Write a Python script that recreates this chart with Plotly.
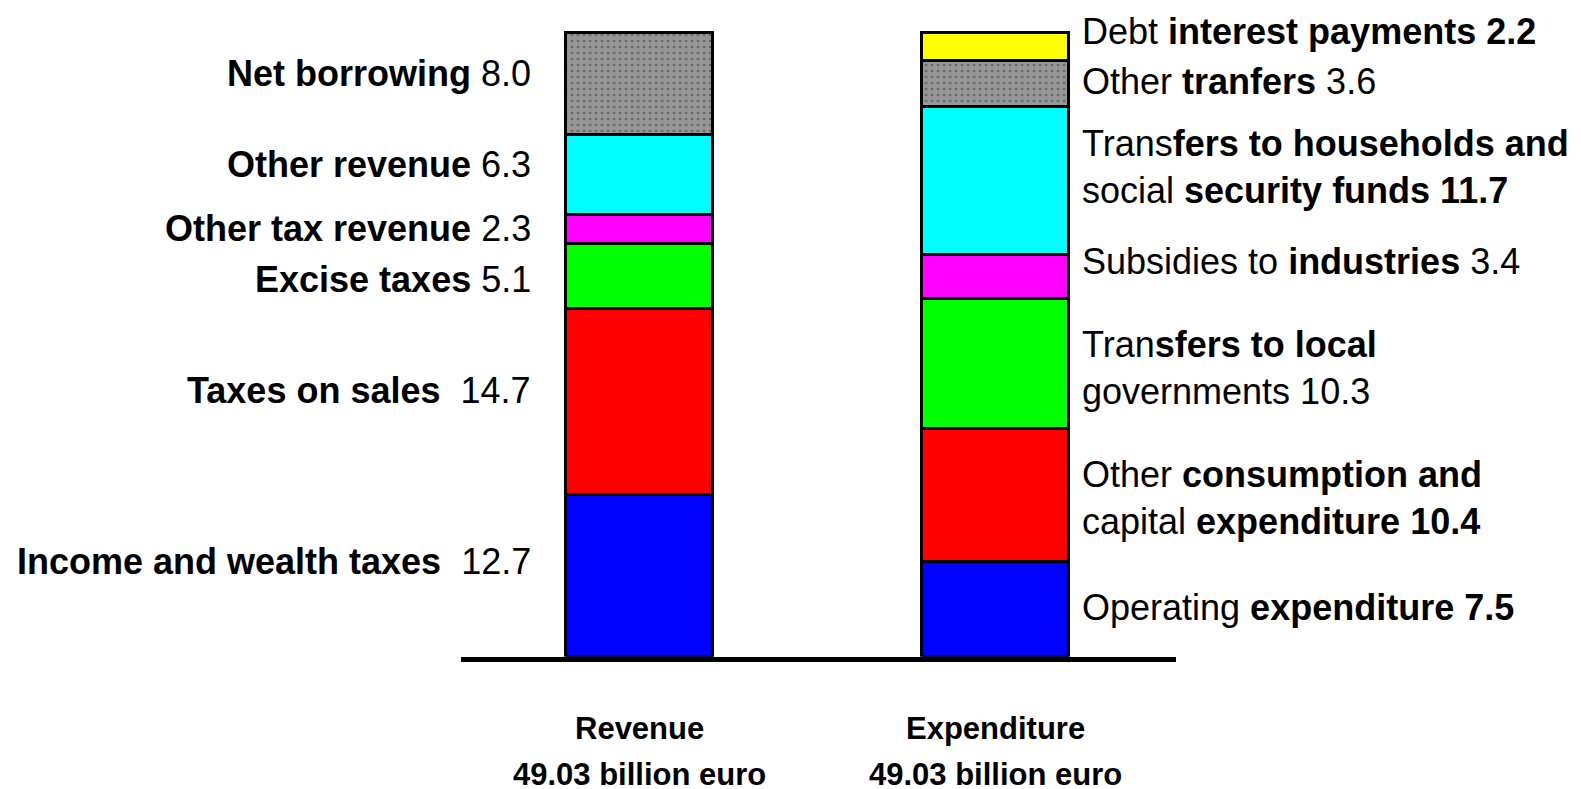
import plotly.graph_objects as go

# ---------------- data ----------------
revenue_items = ["Income and wealth taxes", "Taxes on sales", "Excise taxes",
                 "Other tax revenue", "Other revenue", "Net borrowing"]
revenue_values = [12.7, 14.7, 5.1, 2.3, 6.3, 8.0]

expenditure_items = ["Operating expenditure", "Other consumption and capital expenditure",
                     "Transfers to local governments", "Subsidies to industries",
                     "Transfers to households and social security funds",
                     "Other tranfers", "Debt interest payments"]
expenditure_values = [7.5, 10.4, 10.3, 3.4, 11.7, 3.6, 2.2]

category_names = ["Revenue", "Expenditure"]
category_totals = ["49.03 billion euro", "49.03 billion euro"]

# ---------------- styles ----------------
rev_colors = ["#0000ff", "#ff0000", "#00ff00", "#ff00ff", "#00ffff", "#969696"]
exp_colors = ["#0000ff", "#ff0000", "#00ff00", "#ff00ff", "#00ffff", "#969696", "#ffff00"]
NB = "\u00a0"

rev_label_fmt = [
    "<b>Income and wealth taxes</b>" + NB * 2 + "{v}",
    "<b>Taxes on sales</b>" + NB * 2 + "{v}",
    "<b>Excise taxes</b>" + NB + "{v}",
    "<b>Other tax revenue</b>" + NB + "{v}",
    "<b>Other revenue</b>" + NB + "{v}",
    "<b>Net borrowing</b> {v}",
]
rev_yshift = [15, 12, -3, 1, 10, 10]

exp_label_fmt = [
    "Operating <b>expenditure {v}</b>",
    "Other <b>consumption and</b><br>capital <b>expenditure {v}</b>",
    "Tran<b>sfers to local</b><br>governments {v}",
    "Subsidies to <b>industries</b>" + NB + "{v}",
    "Trans<b>fers to households and</b><br>social <b>security funds {v}</b>",
    "Other <b>tranfers</b>" + NB + "{v}",
    "Debt <b>interest payments {v}</b>",
]
exp_yshift = [2, -3, -4, 15, 14, 2, 16]

FONT = "Liberation Sans, Arial, sans-serif"
LABEL_SIZE = 36
BAR_W = 0.414
W, H = 1581, 789

fig = go.Figure()


def add_stack(xpos, values, colors):
    for v, c in zip(values, colors):
        marker = dict(color=c, line=dict(color="black", width=3))
        if c == "#969696":
            marker["pattern"] = dict(shape=".", fgcolor="#666666", bgcolor="#969696",
                                     size=6, solidity=0.15, fillmode="replace")
        fig.add_trace(go.Bar(x=[xpos], y=[v], width=BAR_W, marker=marker,
                             showlegend=False, hoverinfo="skip"))


add_stack(0, revenue_values, rev_colors)
add_stack(1, expenditure_values, exp_colors)

annotations = []
cum = 0.0
for v, fmt, ys in zip(revenue_values, rev_label_fmt, rev_yshift):
    mid = cum + v / 2
    cum += v
    annotations.append(dict(x=0, y=mid, xref="x", yref="y", text=fmt.format(v=f"{v:.1f}"),
                            xanchor="right", yanchor="middle", xshift=-107, yshift=ys,
                            showarrow=False, align="right",
                            font=dict(family=FONT, size=LABEL_SIZE, color="black")))
cum = 0.0
for v, fmt, ys in zip(expenditure_values, exp_label_fmt, exp_yshift):
    mid = cum + v / 2
    cum += v
    annotations.append(dict(x=1, y=mid, xref="x", yref="y", text=fmt.format(v=f"{v:.1f}"),
                            xanchor="left", yanchor="middle", xshift=85, yshift=ys,
                            showarrow=False, align="left",
                            font=dict(family=FONT, size=LABEL_SIZE, color="black")))

for i, (name, tot) in enumerate(zip(category_names, category_totals)):
    annotations.append(dict(x=i, y=(H - 720.5) / H, xref="x", yref="paper",
                            text=f"<b>{name}</b>", showarrow=False,
                            xanchor="center", yanchor="middle",
                            font=dict(family=FONT, size=31, color="black")))
    annotations.append(dict(x=i, y=(H - 766) / H, xref="x", yref="paper",
                            text=f"<b>{tot}</b>", showarrow=False,
                            xanchor="center", yanchor="middle",
                            font=dict(family=FONT, size=31, color="black")))

fig.update_layout(
    width=W, height=H,
    margin=dict(l=0, r=0, t=0, b=0),
    paper_bgcolor="white", plot_bgcolor="white",
    barmode="stack", bargap=0,
    annotations=annotations,
    hovermode=False,
    xaxis=dict(domain=[453.1 / W, 1167.5 / W], range=[-0.5021, 1.5063],
               showline=True, linecolor="black", linewidth=5,
               showgrid=False, zeroline=False, showticklabels=False, ticks=""),
    yaxis=dict(domain=[(H - 648.8) / H, 1], range=[0, 51.07], visible=False,
               showgrid=False, zeroline=False),
)

fig.write_html("out.html")
